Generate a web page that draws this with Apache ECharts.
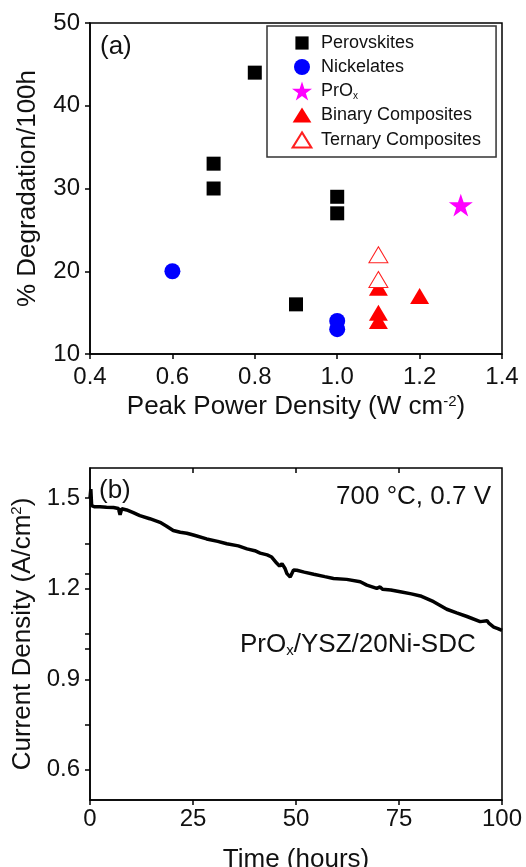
<!DOCTYPE html>
<html>
<head>
<meta charset="utf-8">
<script src="https://cdn.jsdelivr.net/npm/echarts@6/dist/echarts.min.js"></script>
<style>
html, body { margin: 0; padding: 0; background: #fff; }
#main { width: 526px; height: 867px; }
</style>
</head>
<body>
<div id="main"></div>
<script>
// (a) degradation vs peak power density  [W cm-2, %/100h]
const perovskites = [[0.7, 33], [0.7, 30], [0.8, 44], [0.9, 16], [1.0, 29], [1.0, 27]];
const nickelates = [[0.6, 20], [1.0, 14], [1.0, 13]];
const prox = [[1.3, 28]];
const binaryComposites = [[1.1, 18], [1.1, 15], [1.1, 14], [1.2, 17]];
const ternaryComposites = [[1.1, 22], [1.1, 19]];
const legendNames = ['Perovskites', 'Nickelates', 'PrOx', 'Binary Composites', 'Ternary Composites'];

// (b) stability test at 700 C, 0.7 V
const timeHours = [0, 0.2, 0.4, 1, 2.4, 4, 5.7, 6.9, 7.3, 7.7, 8.9, 10.5, 12.1, 14.5, 17, 18.5, 20.2, 21.9, 23.5, 25.1,
  28.3, 31, 33.2, 36, 38.1, 40, 41.3, 43, 44.1, 45.3, 46, 46.6, 47.3, 47.8, 48.6, 49.4, 50.2, 52, 54.3, 57,
  59.1, 62.3, 65.6, 67.2, 69.6, 70.4, 71, 73, 75.3, 78, 80.2, 83.4, 86.6, 89, 91.5, 94.7, 96.4, 96.8, 98, 99, 100];
const currentDensity = [1.50, 1.53, 1.475, 1.472, 1.472, 1.470, 1.469, 1.466, 1.445, 1.465, 1.461, 1.452, 1.442, 1.432, 1.42, 1.408, 1.393, 1.387, 1.384, 1.378,
  1.365, 1.357, 1.349, 1.342, 1.332, 1.326, 1.318, 1.312, 1.305, 1.285, 1.275, 1.283, 1.268, 1.25, 1.239, 1.262, 1.261, 1.255, 1.248, 1.24,
  1.234, 1.231, 1.223, 1.212, 1.201, 1.206, 1.198, 1.196, 1.19, 1.183, 1.176, 1.157, 1.132, 1.12, 1.108, 1.091, 1.094, 1.086, 1.073, 1.068, 1.062];
const currentLabels = [0.6, 0.9, 1.2, 1.5];
const currentTicks = [0.6, 0.75, 0.9, 1.05, 1.2, 1.35, 1.5];
const rightTicks = [0.75, 1.0, 1.25, 1.5];
const topTicks = [25, 50, 75];

const FONT = '"Liberation Sans", Arial, sans-serif';
const INK = '#111';

const axisLine = { show: true, lineStyle: { color: '#000', width: 1.5 } };
const tick = { show: true, length: 5, lineStyle: { color: '#000', width: 1.5 } };
const label = (fmt) => ({ fontSize: 24, color: INK, fontFamily: FONT, formatter: fmt });
const nameStyle = {
  fontSize: 26, color: INK, fontFamily: FONT,
  rich: { sup: { fontSize: 15, fontFamily: FONT, color: INK, verticalAlign: 'top' } }
};

const star = 'path://M50 0 L61.23 34.55 L97.55 34.55 L68.17 55.9 L79.39 90.45 L50 69.1 L20.61 90.45 L31.83 55.9 L2.45 34.55 L38.77 34.55 Z';
// legend icons padded inside a 100x100 box so they keep the reference's sizes
const iconSquare = 'path://M0 0 M100 100 M17 17 L83 17 L83 83 L17 83 Z';
const iconCircle = 'path://M0 0 M100 100 M90 50 A40 40 0 1 1 10 50 A40 40 0 1 1 90 50 Z';
const iconTriangle = 'path://M0 0 M100 100 M50 12 L97 88 L3 88 Z';

const myChart = echarts.init(document.getElementById('main'));

myChart.setOption({
  animation: false,
  backgroundColor: '#fff',
  grid: [
    { left: 90, top: 23, width: 412, height: 331, show: true, borderColor: '#000', borderWidth: 1.5, outerBoundsMode: 'none', containLabel: false },
    { left: 90, top: 468, width: 412, height: 332, show: true, borderColor: '#000', borderWidth: 1.5, outerBoundsMode: 'none', containLabel: false }
  ],
  xAxis: [
    {
      gridIndex: 0, type: 'value', min: 0.4, max: 1.4, interval: 0.2,
      name: 'Peak Power Density (W cm{sup|-2})', nameLocation: 'middle', nameGap: 40,
      nameTextStyle: nameStyle,
      axisLine: axisLine, axisTick: tick,
      axisLabel: Object.assign(label(v => v.toFixed(1)), { margin: 11 }),
      splitLine: { show: false }
    },
    {
      gridIndex: 1, type: 'value', min: 0, max: 100, interval: 25,
      name: 'Time (hours)', nameLocation: 'middle', nameGap: 47,
      nameTextStyle: nameStyle,
      axisLine: axisLine, axisTick: tick,
      axisLabel: Object.assign(label(v => v), { margin: 7 }),
      splitLine: { show: false }
    },
    {
      gridIndex: 1, type: 'value', position: 'top', min: 0, max: 100,
      axisLine: { show: false },
      axisTick: { show: true, inside: true, length: 5, customValues: topTicks, lineStyle: { color: '#000', width: 1.5 } },
      axisLabel: { show: false }, splitLine: { show: false }
    }
  ],
  yAxis: [
    {
      gridIndex: 0, type: 'value', min: 10, max: 50, interval: 10,
      name: '% Degradation/100h', nameLocation: 'middle', nameGap: 49, nameRotate: 90,
      nameTextStyle: nameStyle,
      axisLine: axisLine, axisTick: tick,
      axisLabel: Object.assign(label(v => v), { margin: 10 }),
      splitLine: { show: false }
    },
    {
      gridIndex: 1, type: 'value', min: 0.5, max: 1.6,
      name: 'Current Density (A/cm{sup|2})', nameLocation: 'middle', nameGap: 49, nameRotate: 90,
      nameTextStyle: nameStyle,
      axisLine: axisLine,
      axisTick: Object.assign({}, tick, { customValues: currentTicks }),
      axisLabel: Object.assign(label(v => v.toFixed(1)), { margin: 10, customValues: currentLabels }),
      splitLine: { show: false }
    },
    {
      gridIndex: 1, type: 'value', position: 'right', min: 0.5, max: 1.6,
      axisLine: { show: false },
      axisTick: { show: true, inside: true, length: 5, customValues: rightTicks, lineStyle: { color: '#000', width: 1.5 } },
      axisLabel: { show: false }, splitLine: { show: false }
    }
  ],
  legend: {
    data: [
      { name: legendNames[0], icon: iconSquare },
      { name: legendNames[1], icon: iconCircle },
      { name: legendNames[2] },
      { name: legendNames[3], icon: iconTriangle },
      { name: legendNames[4], icon: iconTriangle }
    ],
    orient: 'vertical', left: 267, top: 26,
    padding: [7, 15, 6, 24], itemGap: 4, itemWidth: 20, itemHeight: 20,
    borderColor: '#333', borderWidth: 1.5, backgroundColor: '#fff',
    selectedMode: false,
    textStyle: {
      fontSize: 18, color: INK, fontFamily: FONT, lineHeight: 20, padding: [0, 0, 0, 4],
      rich: { sub: { fontSize: 10, color: INK, fontFamily: FONT, verticalAlign: 'bottom', lineHeight: 20 } }
    },
    formatter: n => (n === 'PrOx' ? 'PrO{sub|x}' : n)
  },
  series: [
    {
      name: 'Perovskites', type: 'scatter', xAxisIndex: 0, yAxisIndex: 0,
      symbol: 'rect', symbolSize: 14, symbolKeepAspect: true,
      itemStyle: { color: '#000', opacity: 1 }, data: perovskites
    },
    {
      name: 'Nickelates', type: 'scatter', xAxisIndex: 0, yAxisIndex: 0,
      symbol: 'circle', symbolSize: 16, symbolKeepAspect: true,
      itemStyle: { color: '#0000ff', opacity: 1 }, data: nickelates
    },
    {
      name: 'PrOx', type: 'scatter', xAxisIndex: 0, yAxisIndex: 0,
      symbol: star, symbolSize: 24, symbolKeepAspect: true,
      itemStyle: { color: '#ff00ff', opacity: 1 }, data: prox
    },
    {
      name: 'Binary Composites', type: 'scatter', xAxisIndex: 0, yAxisIndex: 0,
      symbol: 'triangle', symbolSize: [19, 16],
      itemStyle: { color: '#ff0000', opacity: 1 }, data: binaryComposites
    },
    {
      name: 'Ternary Composites', type: 'scatter', xAxisIndex: 0, yAxisIndex: 0,
      symbol: 'triangle', symbolSize: [19, 16],
      itemStyle: { color: '#ffffff', borderColor: '#ff2020', borderWidth: 1, opacity: 1 }, data: ternaryComposites
    },
    {
      name: 'stability', type: 'line', xAxisIndex: 1, yAxisIndex: 1,
      showSymbol: false, symbol: 'none',
      lineStyle: { color: '#000', width: 3.5 },
      data: timeHours.map((t, i) => [t, currentDensity[i]])
    }
  ],
  graphic: [
    { type: 'text', x: 100, y: 47, style: { text: '(a)', fontSize: 26, fontFamily: FONT, fill: INK, verticalAlign: 'middle' } },
    { type: 'text', x: 99, y: 491, style: { text: '(b)', fontSize: 26, fontFamily: FONT, fill: INK, verticalAlign: 'middle' } },
    { type: 'text', x: 491, y: 497, style: { text: '700 \u00b0C, 0.7 V', fontSize: 26, fontFamily: FONT, fill: INK, align: 'right', verticalAlign: 'middle' } },
    {
      type: 'text', x: 240, y: 645,
      style: {
        text: 'PrO{sub|x}/YSZ/20Ni-SDC', fontSize: 26, fontFamily: FONT, fill: INK, verticalAlign: 'middle',
        rich: { sub: { fontSize: 15, fontFamily: FONT, fill: INK, verticalAlign: 'bottom' } }
      }
    }
  ]
});
</script>
</body>
</html>
